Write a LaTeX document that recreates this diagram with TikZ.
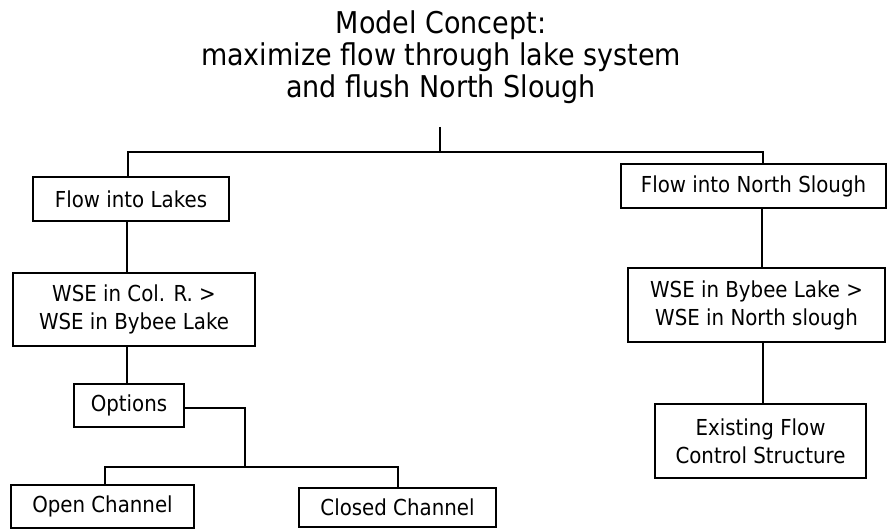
\documentclass[tikz,border=0pt]{standalone}
\usepackage{fontspec}
\setmainfont{DejaVu Sans}
\newfontfamily\boxfont[FakeStretch=0.9]{DejaVu Sans}
\usetikzlibrary{positioning}

\begin{document}
\begin{tikzpicture}[x=1pt,y=-1pt]

\tikzset{box/.style = {draw, line width=1.1pt, inner sep=0pt, align=center, font=\boxfont\fontsize{22}{28}\selectfont}}
\tikzset{every path/.style = {line width=1.1pt}}
\useasboundingbox (0,0) rectangle (888,529);
% title
\node[align=center, inner sep=0pt, font=\boxfont\fontsize{30}{32}\selectfont] (title) at (441,57) {Model Concept:\\maximize flow through lake system\\and flush North Slough};
% boxes
\node[box, minimum width=196pt, minimum height=44pt] (lakes) at (131,199) {Flow into Lakes};
\node[box, minimum width=265pt, minimum height=44pt] (slough) at (753.5,186) {Flow into North Slough};
\node[box, minimum width=242pt, minimum height=73pt] (colr) at (134,309.5) {WSE in Col. R. >\\WSE in Bybee Lake};
\node[box, minimum width=257pt, minimum height=74pt] (bybee) at (756.5,305) {WSE in Bybee Lake >\\WSE in North slough};
\node[box, minimum width=211pt, minimum height=74pt] (existing) at (760.5,441) {Existing Flow\\Control Structure};
\node[box, minimum width=110pt, minimum height=43pt] (options) at (129,405.5) {Options};
\node[box, minimum width=183pt, minimum height=43pt] (open) at (102.5,506.5) {Open Channel};
\node[box, minimum width=197pt, minimum height=39pt] (closed) at (397.5,507.5) {Closed Channel};
% junctions
\coordinate (stem) at (440,127);
\coordinate (split) at (440,152);
\coordinate (optsplit) at (245,467);
% lines
\draw (stem) -- (split);
\draw ([xshift=-3pt]lakes.north) |- (split) -| ([xshift=9.5pt]slough.north);
\draw ([xshift=-4pt]lakes.south) -- ([xshift=-4pt]lakes.south |- colr.north);
\draw ([xshift=-2pt]options.north |- colr.south) -- ([xshift=-2pt]options.north);
\draw ([xshift=8.5pt]slough.south) -- ([xshift=8.5pt]slough.south |- bybee.north);
\draw ([xshift=2.5pt]existing.north |- bybee.south) -- ([xshift=2.5pt]existing.north);
\draw ([yshift=-2.5pt]options.east) -| (optsplit);
\draw ([xshift=2.5pt]open.north) |- (optsplit) -| ([xshift=0.5pt]closed.north);
\end{tikzpicture}
\end{document}
